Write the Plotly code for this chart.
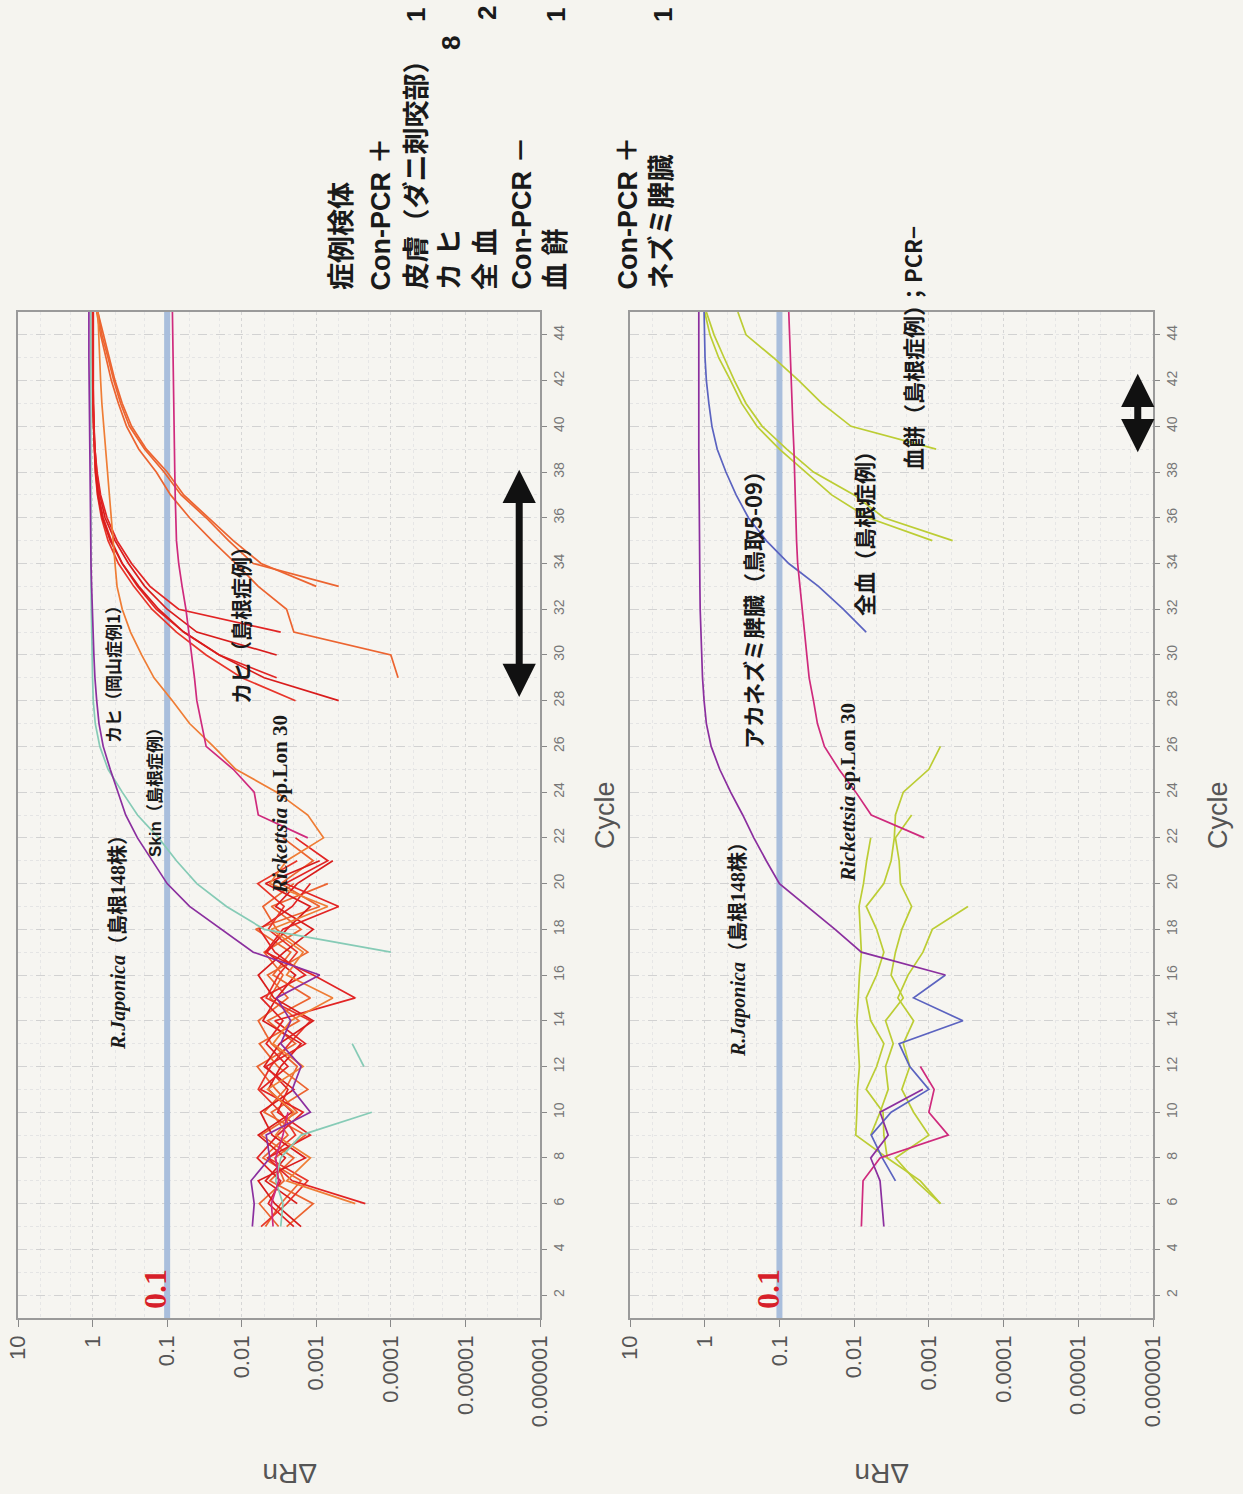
import math
import plotly.graph_objects as go

W, H = 1243, 1494
N = None

# ---------------- data ----------------
CYCLES = list(range(5, 46))  # cycles 5..45 (one value per cycle below)

DRN_TICKS = [10, 1, 0.1, 0.01, 0.001, 0.0001, 0.00001, 0.000001]
DRN_TICK_LABELS = ["10", "1", "0.1", "0.01", "0.001", "0.0001", "0.00001", "0.000001"]
CYCLE_TICKS = list(range(2, 45, 2))
THRESHOLD = 0.1

# top panel ---------------------------------------------------------------
TOP_JAPONICA = [0.0072, 0.0068, 0.0075, 0.0042, 0.0047, 0.0012, 0.0021, 0.0016, 0.0030, 0.0022,
                0.0034, 0.0009, 0.007, 0.019, 0.05, 0.1, 0.16, 0.25, 0.36, 0.46,
                0.58, 0.72, 0.82, 0.88, 0.93, 0.96, 0.99, 1.01, 1.03, 1.05,
                1.06, 1.07, 1.08, 1.09, 1.10, 1.10, 1.11, 1.11, 1.12, 1.12,
                1.12]
TOP_LON30 = [0.0038, 0.0040, 0.0032, 0.0035, 0.0028, 0.0024, N, N, N, N,
             N, N, N, N, N, N, N, 0.0013, 0.006, 0.0068,
             0.013, 0.03, 0.035, 0.04, 0.043, 0.047, 0.052, 0.056, 0.063, 0.07,
             0.075, 0.077, 0.078, 0.079, 0.08, 0.081, 0.082, 0.083, 0.084, 0.085,
             0.085]
TOP_SKIN = [0.003, 0.0028, 0.0035, 0.003, 0.0016, 0.00018, N, 0.00023, 0.00033, N,
            N, N, 0.0001, 0.005, 0.016, 0.04, 0.075, 0.13, 0.25, 0.4,
            0.62, 0.8, 0.92, 0.98, 1.0, 1.02, 1.03, 1.04, 1.05, 1.05,
            1.06, 1.06, 1.06, 1.06, 1.06, 1.06, 1.06, 1.06, 1.06, 1.06,
            1.06]
TOP_KAHI_OKAYAMA = [N, 0.0003, 0.0025, 0.0012, 0.0035, 0.002, 0.0045, 0.0015, 0.0038, 0.0022,
                    0.0006, 0.0025, 0.0015, 0.004, 0.0007, 0.0042, 0.0025, 0.0008, 0.0013, 0.0034,
                    0.012, 0.024, 0.05, 0.085, 0.15, 0.22, 0.31, 0.4, 0.47, 0.5,
                    0.53, 0.56, 0.6, 0.64, 0.68, 0.72, 0.75, 0.78, 0.8, 0.83,
                    0.85]
TOP_KAHI_1 = [0.0025, 0.0011, 0.0042, 0.0020, 0.0055, 0.0018, 0.0035, 0.0062, 0.0019, 0.0045,
              0.0012, 0.0038, 0.0022, 0.0065, 0.0009, 0.0030, 0.0011, 0.0028, N, N,
              N, N, N, N, N, N, N, N, 0.0005, 0.007,
              0.015, 0.03, 0.065, 0.11, 0.2, 0.32, 0.42, 0.52, 0.62, 0.75,
              0.85]
TOP_KAHI_2 = [0.0048, 0.0030, 0.0016, 0.0052, 0.0024, 0.0040, 0.0013, 0.0033, 0.0058, 0.0017,
              0.0042, 0.0028, 0.0050, 0.0016, 0.0040, 0.0007, N, N, N, N,
              N, N, N, N, N, N, N, N, 0.001, 0.0055,
              0.013, 0.028, 0.06, 0.1, 0.19, 0.3, 0.4, 0.5, 0.6, 0.72,
              0.85]
TOP_KAHI_3 = [0.0032, 0.0058, 0.0027, 0.0036, 0.0014, 0.0050, 0.0026, 0.0018, 0.0040, 0.0060,
              0.0024, 0.0045, 0.0013, 0.0034, 0.0052, 0.0020, N, N, N, N,
              N, N, N, N, 0.00008, 0.0001, 0.002, 0.0025, 0.006, 0.012,
              0.025, 0.05, 0.09, 0.14, 0.24, 0.35, 0.45, 0.56, 0.66, 0.78,
              0.88]
TOP_KAHI_4 = [N, 0.0018, 0.0048, 0.0026, 0.0060, 0.0021, 0.0044, 0.0030, 0.0016, 0.0052,
              0.0034, 0.0019, 0.0046, 0.0025, 0.0012, 0.0048, 0.0009, N, N, N,
              N, N, N, N, N, 0.0034, 0.04, 0.1, 0.2, 0.33,
              0.5, 0.68, 0.8, 0.88, 0.93, 0.96, 0.98, 1.0, 1.0, 1.0,
              1.0]
TOP_KAHI_5 = [0.0020, 0.0044, 0.0030, 0.0062, 0.0033, 0.0015, 0.0056, 0.0024, 0.0047, 0.0028,
              0.0055, 0.0014, 0.0036, 0.0058, 0.0021, 0.0012, N, N, N, N,
              N, N, N, N, 0.0034, 0.02, 0.06, 0.14, 0.25, 0.4,
              0.56, 0.72, 0.83, 0.9, 0.94, 0.97, 0.99, 1.0, 1.0, 1.0,
              1.0]
TOP_KAHI_6 = [0.0055, 0.0025, 0.0013, 0.0044, 0.0019, 0.0030, 0.0060, 0.0041, 0.0023, 0.0012,
              0.0047, 0.0032, 0.0018, 0.0044, 0.0027, 0.0061, 0.0018, N, N, N,
              N, N, N, 0.0019, 0.01, 0.03, 0.075, 0.16, 0.28, 0.45,
              0.62, 0.76, 0.86, 0.92, 0.95, 0.97, 0.98, 0.99, 0.99, 0.99,
              0.99]
TOP_KAHI_7 = [0.0016, 0.0036, 0.0060, 0.0014, 0.0039, 0.0056, 0.0020, 0.0050, 0.0031, 0.0011,
              0.0037, 0.0060, 0.0027, 0.0011, 0.0035, 0.0018, 0.0006, N, N, N,
              N, N, N, 0.0005, 0.005, 0.02, 0.06, 0.13, 0.24, 0.4,
              0.58, 0.74, 0.85, 0.91, 0.95, 0.97, 0.98, 0.98, 0.98, 0.98,
              0.98]
TOP_KAHI_8 = [N, 0.00022, 0.0021, 0.0045, 0.0012, 0.0033, 0.0024, 0.0047, 0.0014, 0.0036,
              0.0003, 0.0011, 0.0048, 0.0028, 0.0005, 0.0026, 0.0007, 0.0019, N, N,
              N, N, N, N, N, N, 0.003, 0.07, 0.17, 0.3,
              0.47, 0.64, 0.78, 0.87, 0.93, 0.96, 0.98, 0.98, 0.98, 0.98,
              0.98]

# bottom panel ------------------------------------------------------------
BOT_JAPONICA = [0.004, 0.0042, 0.0045, 0.006, 0.0035, 0.0045, 0.0012, N, N, N,
                N, 0.0006, 0.008, 0.018, 0.042, 0.1, 0.15, 0.22, 0.31, 0.45,
                0.63, 0.82, 0.95, 1.02, 1.07, 1.1, 1.13, 1.15, 1.16, 1.17,
                1.18, 1.18, 1.19, 1.19, 1.2, 1.2, 1.2, 1.2, 1.2, 1.2,
                1.2]
BOT_AKANEZUMI = [N, N, 0.0028, 0.0042, 0.0059, 0.0032, 0.001, 0.0018, 0.0025, 0.00035,
                 0.0016, 0.0006, N, N, N, N, N, N, N, N,
                 N, N, N, N, N, N, 0.0069, 0.014, 0.03, 0.075,
                 0.15, 0.26, 0.38, 0.52, 0.68, 0.8, 0.88, 0.95, 0.99, 1.01,
                 1.02]
BOT_LON30 = [0.008, 0.0078, 0.0076, 0.0045, 0.00055, 0.001, 0.00085, 0.0013, N, N,
             N, N, N, N, N, N, N, 0.00115, 0.0059, 0.0095,
             0.016, 0.025, 0.031, 0.035, 0.04, 0.043, 0.046, 0.05, 0.053, 0.057,
             0.059, 0.06, 0.061, 0.062, 0.064, 0.066, 0.068, 0.07, 0.072, 0.074,
             0.075]
BOT_BLOOD_1 = [N, 0.0007, 0.0013, 0.0036, 0.0095, 0.0092, 0.009, 0.0085, 0.0089, 0.0092,
               0.0088, 0.0085, 0.008, 0.0082, 0.0086, 0.0075, 0.0068, 0.006, N, N,
               N, N, N, N, N, N, N, N, N, N,
               0.00048, 0.004, 0.01, 0.035, 0.08, 0.17, 0.28, 0.4, 0.55, 0.75,
               0.95]
BOT_BLOOD_2 = [N, N, N, 0.0036, 0.004, 0.0041, 0.0069, 0.005, 0.004, 0.006,
               0.0069, 0.005, 0.004, 0.005, 0.0069, 0.004, 0.0032, 0.0029, 0.0028, 0.0022,
               0.001, 0.0007, N, N, N, N, N, N, N, N,
               0.0009, 0.0065, 0.02, 0.045, 0.1, 0.2, 0.32, 0.45, 0.65, 0.85,
               1.0]
BOT_CLOT = [N, 0.0007, 0.0015, 0.0028, 0.001, 0.0016, 0.0023, 0.0018, 0.0022, 0.0016,
            0.0026, 0.0019, 0.0012, 0.0009, 0.0003, N, N, N, N, N,
            N, N, N, N, N, N, N, N, N, N,
            N, N, N, N, 0.0008, 0.011, 0.027, 0.055, 0.12, 0.28,
            0.36]
BOT_NEG = [N, N, N, N, 0.006, 0.0045, 0.0035, 0.0038, 0.003, 0.0038,
           0.0022, 0.0032, 0.0028, 0.0023, 0.0017, 0.0024, 0.0025, 0.0028, 0.0017, N,
           N, N, N, N, N, N, N, N, N, N,
           N, N, N, N, N, N, N, N, N, N,
           N]

# double-arrow cycle spans (cycle_low, cycle_high, ΔRn position)
ARROW_TOP = (28.1, 38.1, 1.9e-6)
ARROW_BOT = (38.8, 42.3, 1.6e-6)

# ---------------- styles ----------------
PURPLE = "#8b2f9f"
MAGENTA = "#cf2a7d"
TEAL = "#86cbb6"
ORANGE = "#ef7d35"
RED1 = "#e8352a"
RED2 = "#e22424"
RED3 = "#d91c1c"
ORED = "#ec6430"
BLUE = "#5b63c0"
YG = "#bccd34"

TOP_SERIES = [
    (TOP_KAHI_1, ORED), (TOP_KAHI_2, ORED), (TOP_KAHI_3, ORED), (TOP_KAHI_4, RED3),
    (TOP_KAHI_5, RED2), (TOP_KAHI_6, RED1), (TOP_KAHI_7, RED3), (TOP_KAHI_8, RED2),
    (TOP_KAHI_OKAYAMA, ORANGE), (TOP_SKIN, TEAL), (TOP_LON30, MAGENTA), (TOP_JAPONICA, PURPLE),
]
BOT_SERIES = [
    (BOT_NEG, YG), (BOT_BLOOD_1, YG), (BOT_BLOOD_2, YG), (BOT_CLOT, YG),
    (BOT_AKANEZUMI, BLUE), (BOT_LON30, MAGENTA), (BOT_JAPONICA, PURPLE),
]

fig = go.Figure()

def add_panel(series, xa, ya):
    fig.add_trace(go.Scatter(x=[THRESHOLD, THRESHOLD], y=[1, 45], mode="lines",
                             line=dict(color="#a9bedc", width=6), xaxis=xa, yaxis=ya,
                             hoverinfo="skip"))
    for vals, col in series:
        fig.add_trace(go.Scatter(x=vals, y=CYCLES, mode="lines", connectgaps=False,
                                 line=dict(color=col, width=1.7), xaxis=xa, yaxis=ya,
                                 hoverinfo="skip"))

add_panel(TOP_SERIES, "x", "y")
add_panel(BOT_SERIES, "x2", "y2")

def px(x):
    return x / W

def py(y):
    return 1 - y / H

YDOM = [py(1318), py(312)]

def xaxis_cfg(dom, anchor):
    return dict(domain=dom, anchor=anchor, type="log", range=[1, -6], automargin=False,
                tickvals=DRN_TICKS, ticktext=DRN_TICK_LABELS, tickangle=-90,
                tickfont=dict(family="Liberation Sans, Arial", size=22, color="#555"),
                ticks="outside", ticklen=7, tickcolor="#888",
                showline=True, mirror=True, linecolor="#9a9a9a", linewidth=1.5,
                showgrid=True, gridcolor="#d6d6d6", griddash="dot", gridwidth=1,
                minor=dict(showgrid=True, gridcolor="#e6e6e6", griddash="dot"),
                zeroline=False, fixedrange=True)

def yaxis_cfg(anchor):
    return dict(domain=YDOM, anchor=anchor, side="right", range=[1, 45], automargin=False,
                tickvals=CYCLE_TICKS, tickangle=-90,
                tickfont=dict(family="Liberation Sans, Arial", size=14, color="#777"),
                ticks="outside", ticklen=5, tickcolor="#888",
                showline=True, mirror=True, linecolor="#9a9a9a", linewidth=1.5,
                showgrid=True, gridcolor="#d2d2d2", griddash="dash", gridwidth=1,
                minor=dict(dtick=1, showgrid=True, gridcolor="#e4e4e4", griddash="dot"),
                zeroline=False, fixedrange=True)

fig.update_layout(
    width=W, height=H, margin=dict(l=0, r=0, t=0, b=0, autoexpand=False),
    paper_bgcolor="#f5f4ef", plot_bgcolor="#f6f5f1", showlegend=False,
    xaxis=xaxis_cfg([px(18), px(540)], "y"),
    yaxis=yaxis_cfg("x"),
    xaxis2=xaxis_cfg([px(630), px(1153)], "y2"),
    yaxis2=yaxis_cfg("x2"),
)

ann = []

def text(t, x, y, size, angle=-90, family="Noto Sans CJK JP", color="#1a1a1a",
         xanchor="center", yanchor="middle"):
    ann.append(dict(text=t, x=px(x), y=py(y), xref="paper", yref="paper",
                    showarrow=False, textangle=angle, xanchor=xanchor, yanchor=yanchor,
                    font=dict(family=family, size=size, color=color)))

# header rows
HEADER_ROWS = [("症例検体", 342), ("Con-PCR ＋", 380), ("皮膚（ダニ刺咬部）", 416),
               ("カ ヒ", 450), ("全 血", 486), ("Con-PCR －", 521), ("血 餅", 556),
               ("Con-PCR ＋", 627), ("ネズミ脾臓", 661)]
for t, x in HEADER_ROWS:
    text("<b>" + t + "</b>", x, 292, 27, family="Liberation Sans, Noto Sans CJK JP",
         yanchor="bottom")
HEADER_COUNTS = [("1", 416, 15), ("8", 451, 43), ("2", 487, 13), ("1", 556, 15), ("1", 663, 15)]
for t, x, y in HEADER_COUNTS:
    text("<b>" + t + "</b>", x, y, 26, family="Liberation Sans")

SERIF = "Liberation Serif, Noto Sans CJK JP"
SANS = "Liberation Sans, Noto Sans CJK JP"
# top panel labels
text("<b><i>R.Japonica</i>（島根148株）</b>", 118, 938, 20, family=SERIF)
text("<b>Skin（島根症例）</b>", 155, 788, 17, family=SANS)
text("<b>カヒ（岡山症例1）</b>", 112, 670, 17)
text("<b>カヒ（島根症例）</b>", 240, 620, 21)
text("<b><i>Rickettsia</i> sp.Lon 30</b>", 280, 805, 21, family=SERIF)
text("<b>0.1</b>", 155, 1289, 32, family="Liberation Serif", color="#d71f2a")
# bottom panel labels
text("<b><i>R.Japonica</i>（島根148株）</b>", 738, 945, 20, family=SERIF)
text("<b>アカネズミ脾臓（鳥取5-09）</b>", 752, 605, 22)
text("<b><i>Rickettsia</i> sp.Lon 30</b>", 848, 792, 21, family=SERIF)
text("<b>全血（島根症例）</b>", 863, 528, 22)
text("<b>血餅（島根症例）；PCR−</b>", 912, 472, 22, yanchor="bottom")
text("<b>0.1</b>", 768, 1289, 32, family="Liberation Serif", color="#d71f2a")

# axis titles
for x in (605, 1218):
    text("Cycle", x, 815, 27, family="Liberation Sans, Arial", color="#555")
for x in (290, 882):
    text("ΔRn", x, 1474, 28, angle=180, family="Liberation Sans, Arial", color="#555")

# double arrows
for (c0, c1, v), xr, yr in ((ARROW_TOP, "x", "y"), (ARROW_BOT, "x2", "y2")):
    lv = math.log10(v)
    ann.append(dict(x=lv, y=c1, ax=lv, ay=c0, xref=xr, yref=yr, axref=xr, ayref=yr,
                    text="", showarrow=True, arrowhead=2, arrowside="end+start",
                    arrowsize=0.95, arrowwidth=7, arrowcolor="#111"))

fig.update_layout(annotations=ann)
fig.write_html("out.html", config={"displayModeBar": False},
               post_script="document.body.style.margin='0';document.body.style.padding='0';")
